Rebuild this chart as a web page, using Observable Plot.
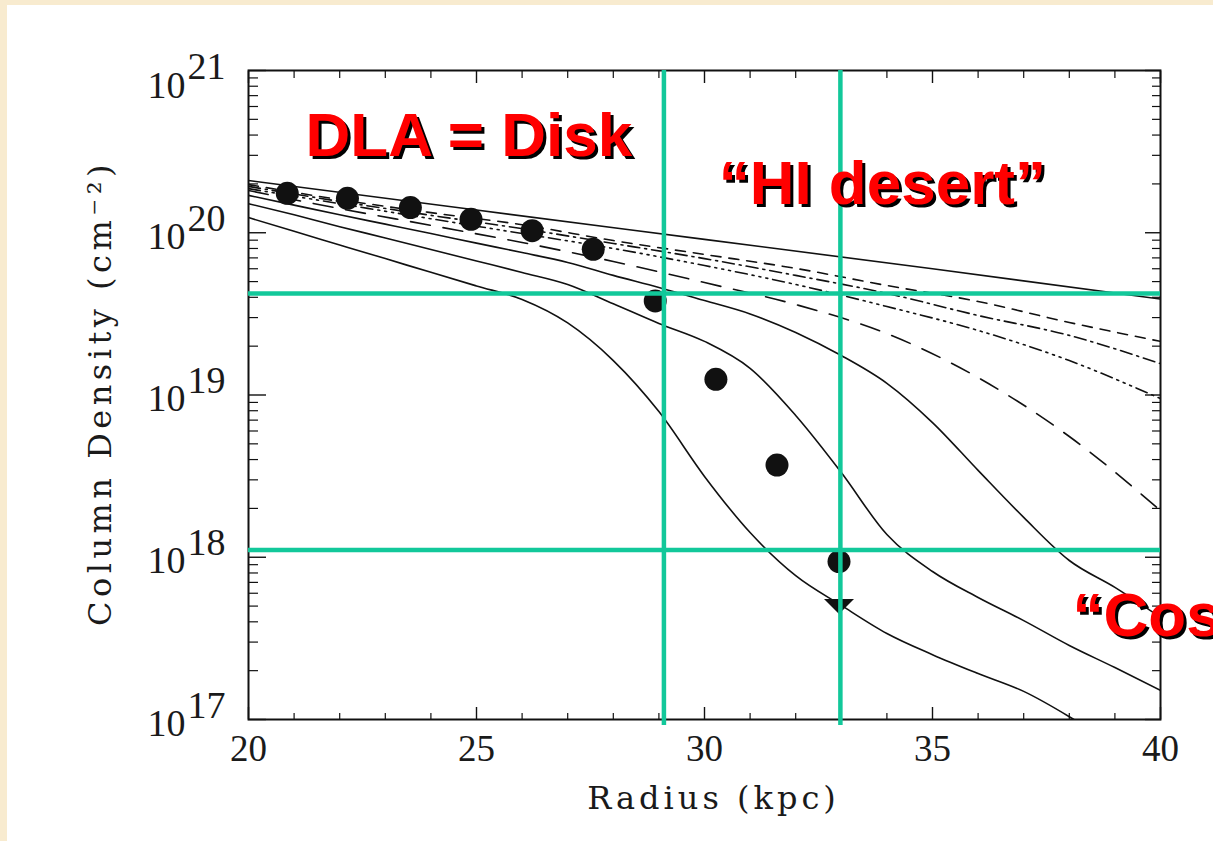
<!DOCTYPE html>
<html>
<head>
<meta charset="utf-8">
<script src="https://cdn.jsdelivr.net/npm/d3@7"></script>
<script src="https://cdn.jsdelivr.net/npm/@observablehq/plot@0.6"></script>
<style>
html, body { margin: 0; padding: 0; }
body { width: 1213px; height: 841px; background: #f8ebcf; position: relative; overflow: hidden; }
#panel { position: absolute; left: 7px; top: 5px; right: 0; bottom: 0; background: #ffffff; }
#chart { position: absolute; left: 0; top: 0; }
.xtitle text { letter-spacing: 4px; }
.ytitle text { letter-spacing: 4.5px; }
</style>
</head>
<body>
<div id="panel"></div>
<div id="chart"></div>
<script>
// ---------- data ----------
// Radius (kpc) grids
const radiusTop = [20, 25, 30, 35, 40];
const radiusFine = [20, 21, 22, 23, 24, 25, 26, 27, 28, 29, 30, 31, 32, 33, 34, 35, 36, 37, 38, 39, 40];
const radiusA = [20, 21, 22, 23, 24, 25, 26, 27, 28, 29, 30, 31, 32, 33, 34, 35, 36, 37, 38, 38.1];
const radiusDash = [20, 22, 24, 26, 28, 30, 32, 34, 36, 38, 40];

// model curves: column density (cm^-2)
const solidTop = [2.1e20, 1.38e20, 9.1e19, 6.0e19, 3.9e19];
const solidA = [1.24e20, 1.02e20, 8.41e19, 6.93e19, 5.7e19, 4.7e19, 3.88e19, 2.78e19, 1.63e19, 7.9e18,
                3.15e18, 1.42e18, 7.7e17, 5.05e17, 3.39e17, 2.51e17, 1.92e17, 1.49e17, 1.04e17, 1.0e17];
const solidB = [1.51e20, 1.29e20, 1.09e20, 9.29e19, 7.89e19, 6.7e19, 5.69e19, 4.8e19, 3.65e19, 2.76e19,
                2.14e19, 1.46e19, 7.48e18, 3.33e18, 1.38e18, 8.17e17, 5.65e17, 4.07e17, 2.86e17, 2.09e17, 1.51e17];
const solidC = [1.7e20, 1.48e20, 1.29e20, 1.13e20, 9.89e19, 8.63e19, 7.55e19, 6.56e19, 5.46e19, 4.6e19,
                3.82e19, 3.16e19, 2.43e19, 1.75e19, 1.18e19, 6.76e18, 3.43e18, 1.76e18, 9.55e17, 6.52e17, 4.26e17];
const dashShort = [1.98e20, 1.6e20, 1.33e20, 1.12e20, 8.95e19, 7.35e19, 6.03e19, 4.73e19, 3.77e19, 2.8e19, 2.14e19];
const dashDot = [1.93e20, 1.56e20, 1.28e20, 1.06e20, 8.59e19, 6.93e19, 5.46e19, 4.23e19, 3.09e19, 2.33e19, 1.56e19];
const dashDots3 = [1.87e20, 1.51e20, 1.22e20, 9.89e19, 8.0e19, 6.28e19, 4.8e19, 3.51e19, 2.5e19, 1.63e19, 9.5e18];
const dashLong = [1.82e20, 1.41e20, 1.11e20, 8.71e19, 6.65e19, 4.93e19, 3.61e19, 2.39e19, 1.28e19, 5.55e18, 1.94e18];

// observed points
const obsRadius = [20.85, 22.17, 23.55, 24.88, 26.22, 27.56, 28.92, 30.25, 31.59, 32.95];
const obsColumn = [1.75e20, 1.63e20, 1.43e20, 1.21e20, 1.03e20, 7.9e19, 3.8e19, 1.25e19, 3.7e18, 9.4e17];
const limitRadius = [32.95];
const limitColumn = [5.0e17];

// green guide lines
const guideRadius = [29.11, 32.98];
const guideColumn = [4.23e19, 1.11e18];
const guideTopColumn = 1e21;
const guideBottomColumn = 9.2e16;

// annotations
const noteText = ["DLA = Disk", "\u201CHI desert\u201D", "\u201CCosmic Web\u201D"];
const noteRadius = [21.25, 30.31, 38.07];
const noteColumn = [2.99e20, 1.51e20, 3.25e17];

// ticks & labels
const xTickLabels = [20, 25, 30, 35, 40];
const xMinorTicks = [21, 22, 23, 24, 26, 27, 28, 29, 31, 32, 33, 34, 36, 37, 38, 39];
const yTicks = [1e17, 1e18, 1e19, 1e20, 1e21];
const yExponents = ["17", "18", "19", "20", "21"];
const yBase = "10";
const yMinorTicks = d3.range(17, 21).flatMap(k => d3.range(2, 10).map(m => m * Math.pow(10, k)));
const xTitle = "Radius (kpc)";
const yTitle = "Column Density (cm\u207B\u00B2)";

// ---------- helpers ----------
const rows = (xs, ns) => xs.map((x, i) => ({x, n: ns[i]}));
const INK = "#111";
const GREEN = "#12c89a";
const numFont = "Liberation Serif";
const titleFont = "DejaVu Serif";
const downTriangle = {
  draw(ctx) { ctx.moveTo(-15, -7); ctx.lineTo(15, -7); ctx.lineTo(0, 8); ctx.closePath(); }
};
const curve = (data, dash) => Plot.line(data, {
  x: "x", y: "n", stroke: INK, strokeWidth: 1.6, curve: "monotone-x", clip: true,
  strokeDasharray: dash
});
const blank = () => "";

const lowLabels = yTicks.slice(0, 4), topLabel = yTicks.slice(4);
const lowExp = yExponents.slice(0, 4), topExp = yExponents.slice(4);

const chart = Plot.plot({
  width: 1213,
  height: 841,
  marginLeft: 248,
  marginRight: 53,
  marginTop: 70,
  marginBottom: 122,
  style: {background: "transparent", overflow: "visible"},
  x: {domain: [20, 40]},
  y: {type: "log", domain: [1e17, 1e21]},
  marks: [
    curve(rows(radiusTop, solidTop)),
    curve(rows(radiusFine, solidC)),
    curve(rows(radiusFine, solidB)),
    curve(rows(radiusA, solidA)),
    curve(rows(radiusDash, dashShort), "10,8"),
    curve(rows(radiusDash, dashDot), "12,5,2,5"),
    curve(rows(radiusDash, dashDots3), "12,5,2,5,2,5,2,5"),
    curve(rows(radiusDash, dashLong), "20,13"),
    Plot.dot(rows(obsRadius, obsColumn), {x: "x", y: "n", r: 11.5, fill: INK}),
    Plot.dot(rows(limitRadius, limitColumn), {x: "x", y: "n", symbol: downTriangle, fill: INK}),
    Plot.frame({stroke: INK, strokeWidth: 2}),
    // ticks (inward)
    Plot.axisX({anchor: "bottom", ticks: xTickLabels, tickSize: -12, tickFormat: blank, label: null, stroke: INK, strokeWidth: 1.4}),
    Plot.axisX({anchor: "bottom", ticks: xMinorTicks, tickSize: -6, tickFormat: blank, label: null, stroke: INK, strokeWidth: 1.2}),
    Plot.axisX({anchor: "top", ticks: xTickLabels, tickSize: -12, tickFormat: blank, label: null, stroke: INK, strokeWidth: 1.4}),
    Plot.axisX({anchor: "top", ticks: xMinorTicks, tickSize: -7, tickFormat: blank, label: null, stroke: INK, strokeWidth: 1.2}),
    Plot.axisY({anchor: "left", ticks: yTicks, tickSize: -18, tickFormat: blank, label: null, stroke: INK, strokeWidth: 1.4}),
    Plot.axisY({anchor: "left", ticks: yMinorTicks, tickSize: -10, tickFormat: blank, label: null, stroke: INK, strokeWidth: 1.2}),
    Plot.axisY({anchor: "right", ticks: yTicks, tickSize: -16, tickFormat: blank, label: null, stroke: INK, strokeWidth: 1.4}),
    Plot.axisY({anchor: "right", ticks: yMinorTicks, tickSize: -9, tickFormat: blank, label: null, stroke: INK, strokeWidth: 1.2}),
    // tick labels
    Plot.text(xTickLabels, {x: d => d, frameAnchor: "bottom", dy: 41, text: d => String(d),
      fontFamily: numFont, fontSize: 37, fill: "#1a1a1a"}),
    Plot.text(lowLabels, {y: d => d, frameAnchor: "left", dx: -63, dy: 4, text: () => yBase, textAnchor: "end",
      fontFamily: numFont, fontSize: 38, fill: "#1a1a1a"}),
    Plot.text(lowLabels, {y: d => d, frameAnchor: "left", dx: -61, dy: -14, text: (d, i) => lowExp[i], textAnchor: "start",
      fontFamily: numFont, fontSize: 38, fill: "#1a1a1a"}),
    Plot.text(topLabel, {y: d => d, frameAnchor: "left", dx: -63, dy: 15, text: () => yBase, textAnchor: "end",
      fontFamily: numFont, fontSize: 38, fill: "#1a1a1a"}),
    Plot.text(topLabel, {y: d => d, frameAnchor: "left", dx: -61, dy: -4, text: (d, i) => topExp[i], textAnchor: "start",
      fontFamily: numFont, fontSize: 38, fill: "#1a1a1a"}),
    // axis titles
    Plot.text([xTitle], {frameAnchor: "bottom", dy: 89, dx: 9, text: d => d, className: "xtitle",
      fontFamily: titleFont, fontSize: 32, fill: "#1a1a1a"}),
    Plot.text([yTitle], {frameAnchor: "left", textAnchor: "middle", dx: -148, dy: -2, rotate: -90, text: d => d, className: "ytitle",
      fontFamily: titleFont, fontSize: 32, fill: "#1a1a1a"}),
    // green guides
    Plot.ruleX(guideRadius, {x: d => d, y1: guideTopColumn, y2: guideBottomColumn, stroke: GREEN, strokeWidth: 4.5}),
    Plot.ruleY(guideColumn, {y: d => d, x1: 20, x2: 40, stroke: GREEN, strokeWidth: 4.5}),
    // annotations with shadow
    Plot.text(noteText, {x: (d, i) => noteRadius[i], y: (d, i) => noteColumn[i], text: d => d,
      textAnchor: "start", lineAnchor: "bottom", dx: 3, dy: 3,
      fontFamily: "Liberation Sans", fontWeight: "bold", fontSize: 62, fill: "#000"}),
    Plot.text(noteText, {x: (d, i) => noteRadius[i], y: (d, i) => noteColumn[i], text: d => d,
      textAnchor: "start", lineAnchor: "bottom",
      fontFamily: "Liberation Sans", fontWeight: "bold", fontSize: 62, fill: "#ff0000"})
  ]
});
document.getElementById("chart").appendChild(chart);
</script>
</body>
</html>
